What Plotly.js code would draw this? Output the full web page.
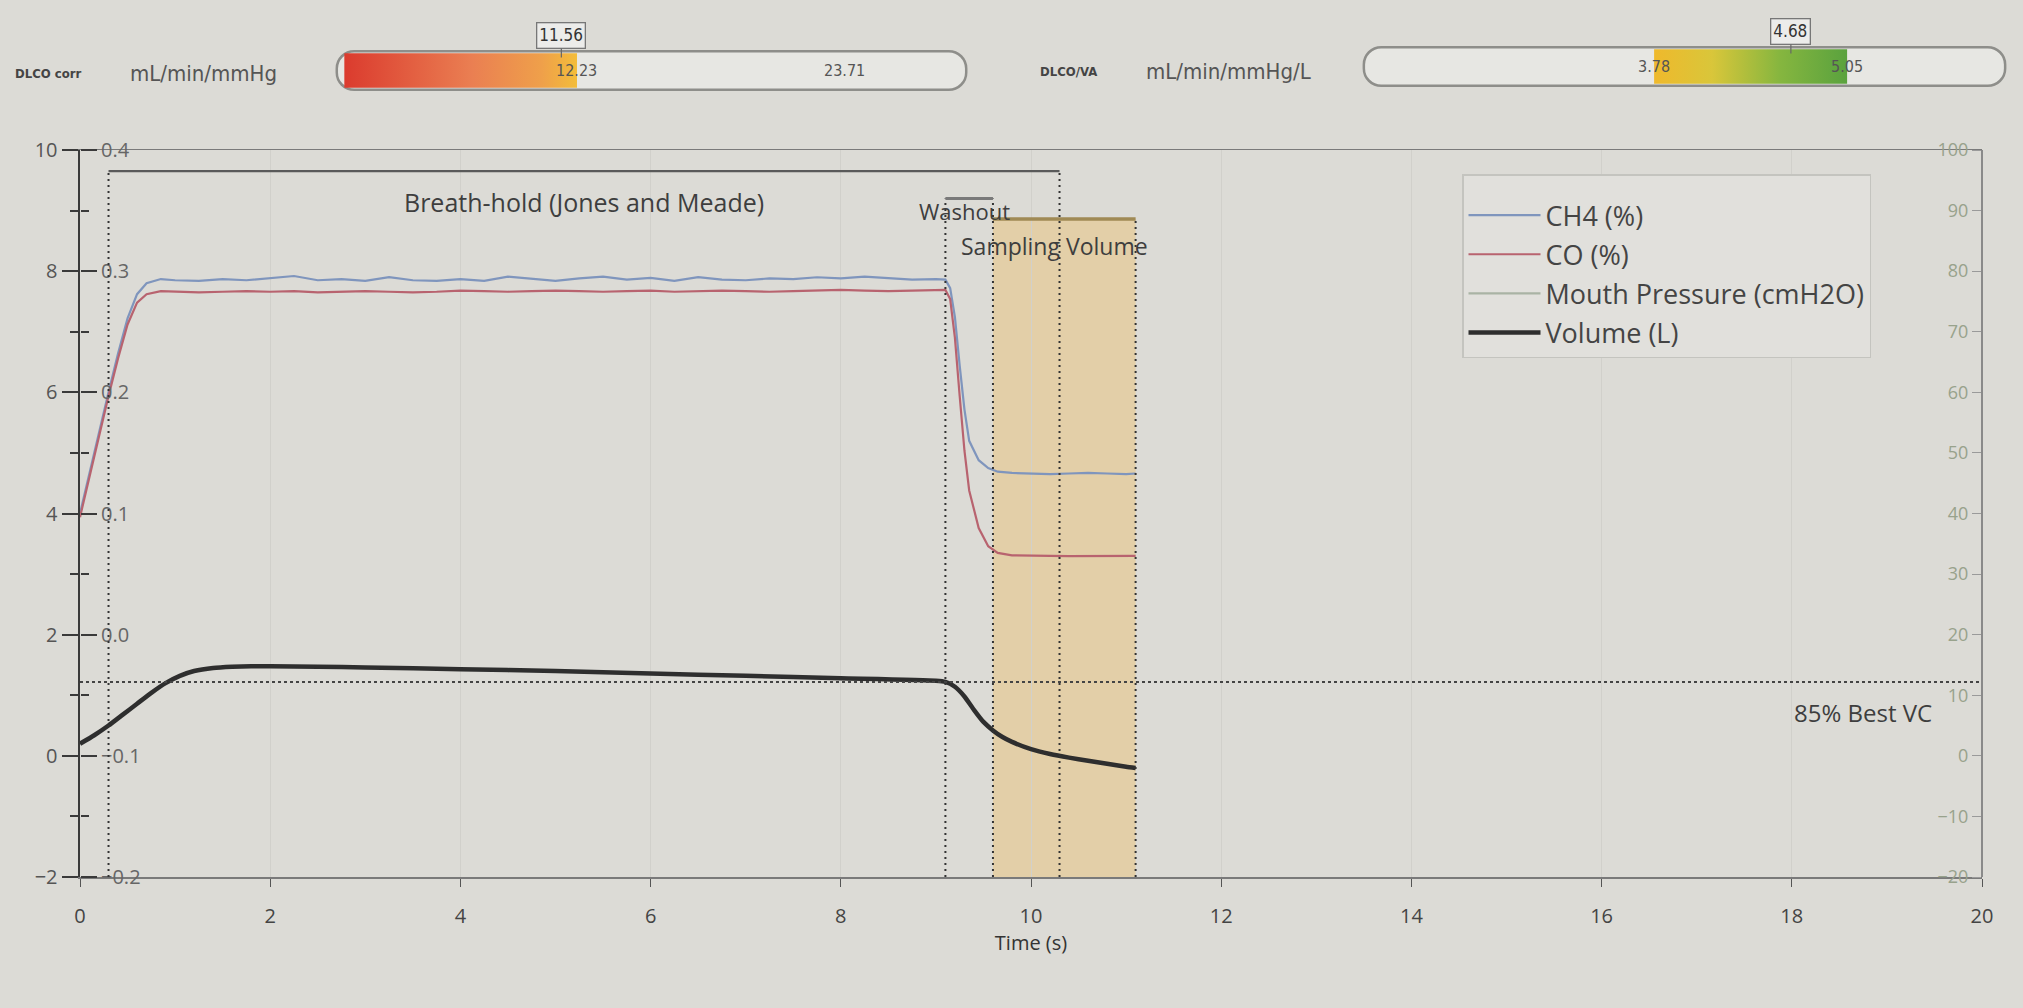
<!DOCTYPE html>
<html>
<head>
<meta charset="utf-8">
<script src="https://cdn.plot.ly/plotly-3.0.1.min.js"></script>
<style>html,body{margin:0;padding:0;background:#dcdbd6;}#chart{width:2023px;height:1008px;}</style>
</head>
<body>
<div id="chart"></div>
<script>
// ---------- data ----------
const gasTime = [0, 0.1, 0.2, 0.3, 0.4, 0.5, 0.6, 0.7, 0.85, 1.0,
  1.25, 1.5, 1.75, 2.0, 2.25, 2.5, 2.75, 3.0, 3.25, 3.5, 3.75, 4.0, 4.25, 4.5, 4.75, 5.0,
  5.25, 5.5, 5.75, 6.0, 6.25, 6.5, 6.75, 7.0, 7.25, 7.5, 7.75, 8.0, 8.25, 8.5, 8.75, 9.0,
  9.1, 9.15, 9.2, 9.25, 9.3, 9.35, 9.45, 9.55, 9.65, 9.8,
  10.0, 10.2, 10.4, 10.6, 10.8, 11.0, 11.1];
const ch4Pct = [0.100, 0.134, 0.167, 0.200, 0.232, 0.261, 0.281, 0.290, 0.2935, 0.2925,
  0.292, 0.2935, 0.2925, 0.294, 0.296, 0.2925, 0.2935, 0.292, 0.295, 0.2925, 0.292, 0.2935, 0.292, 0.2955, 0.2935, 0.292,
  0.294, 0.2955, 0.293, 0.2945, 0.292, 0.295, 0.293, 0.2925, 0.294, 0.2935, 0.295, 0.294, 0.2955, 0.294, 0.293, 0.2935,
  0.293, 0.286, 0.262, 0.222, 0.186, 0.160, 0.144, 0.1375, 0.1345, 0.1335,
  0.133, 0.1325, 0.133, 0.1335, 0.133, 0.1325, 0.133];
const coPct = [0.097, 0.131, 0.164, 0.197, 0.228, 0.256, 0.274, 0.281, 0.2835, 0.283,
  0.2825, 0.283, 0.2835, 0.283, 0.2835, 0.2825, 0.283, 0.2835, 0.283, 0.2825, 0.283, 0.284, 0.2835, 0.283, 0.2835, 0.284,
  0.2835, 0.283, 0.2835, 0.284, 0.283, 0.2835, 0.284, 0.2835, 0.283, 0.2835, 0.284, 0.2845, 0.284, 0.2835, 0.284, 0.2845,
  0.2845, 0.277, 0.245, 0.197, 0.152, 0.119, 0.088, 0.073, 0.0675, 0.0655,
  0.065, 0.065, 0.0648, 0.065, 0.0652, 0.065, 0.065];
const volTime = [0, 0.15, 0.3, 0.45, 0.6, 0.75, 0.9, 1.05, 1.2, 1.4,
  1.6, 1.8, 2.0, 2.5, 3, 4, 5, 6, 7, 8,
  9, 9.1, 9.2, 9.3, 9.4, 9.5, 9.6, 9.7, 9.8, 10.0,
  10.2, 10.4, 10.6, 10.8, 11.0, 11.1];
const volumeL = [0.2, 0.34, 0.5, 0.68, 0.86, 1.04, 1.2, 1.32, 1.4, 1.45,
  1.47, 1.48, 1.48, 1.47, 1.46, 1.43, 1.4, 1.36, 1.32, 1.28,
  1.24, 1.22, 1.14, 0.98, 0.76, 0.56, 0.42, 0.31, 0.23, 0.11,
  0.03, -0.03, -0.08, -0.13, -0.18, -0.2];
const mouthPressureTime = [null];
const mouthPressure = [null];

const seriesNames = ['CH4 (%)', 'CO (%)', 'Mouth Pressure (cmH2O)', 'Volume (L)'];

// manoeuvre phases (s) and bracket levels (left axis units)
const breathHold = [0.3, 10.3];
const washout = [9.1, 9.6];
const sampling = [9.6, 11.1];
const bracketLevels = [9.65, 9.2, 8.86]; // breath-hold, washout, sampling
const bestVC85 = 1.22;
const phaseLabels = ['Breath-hold (Jones and Meade)', 'Washout', 'Sampling Volume', '85% Best VC'];

// gauges
const gaugeNames = ['DLCO corr', 'DLCO/VA'];
const gaugeUnits = ['mL/min/mmHg', 'mL/min/mmHg/L'];
const dlcoSpan = [1.93, 28.92];
const dlcoRefs = [12.23, 23.71];
const dlcoMeasured = 11.56;
const vaSpan = [1.87, 6.09];
const vaRefs = [3.78, 5.05];
const vaMeasured = 4.68;

// ---------- layout helpers ----------
const W = 2023, H = 1008, MB = 131;
const PH = H - MB;
const px = v => v / W;
const py = v => (PH - v) / PH;

const BG = '#dcdbd6';
const FONT = 'Open Sans, sans-serif';
const NARROW = 'Liberation Sans Narrow, DejaVu Sans Condensed, sans-serif';

function gaugeTraces(xa, ya, span, segStart, segEnd, colorscale) {
  return [
    {type: 'bar', orientation: 'h', xaxis: xa, yaxis: ya, y: [0], x: [span[1] - span[0]], base: [span[0]],
     width: 0.9, marker: {color: '#e7e7e3', cornerradius: '45%', line: {width: 0}},
     showlegend: false, hoverinfo: 'skip'},
    {type: 'scatter', mode: 'lines', xaxis: xa, yaxis: ya,
     x: [segStart, segEnd, segEnd, segStart, segStart], y: [-0.4, -0.4, 0.4, 0.4, -0.4],
     fill: 'toself', fillcolor: colorscale[1][1], fillgradient: {type: 'horizontal', colorscale: colorscale},
     line: {width: 0}, showlegend: false, hoverinfo: 'skip'},
    {type: 'bar', orientation: 'h', xaxis: xa, yaxis: ya, y: [0], x: [span[1] - span[0]], base: [span[0]],
     width: 0.9, marker: {color: 'rgba(0,0,0,0)', cornerradius: '45%', line: {width: 2.5, color: '#8e8e8a'}},
     showlegend: false, hoverinfo: 'skip'}
  ];
}

const dlcoPad = (dlcoSpan[1] - dlcoSpan[0]) * 0.006;
const vaPad = (vaSpan[1] - vaSpan[0]) * 0.006;

const traces = [
  ...gaugeTraces('x2', 'y4', dlcoSpan, dlcoSpan[0] + (dlcoSpan[1] - dlcoSpan[0]) * 0.012, dlcoRefs[0],
    [[0, '#db3b2e'], [0.55, '#ea7f52'], [0.85, '#efa04a'], [1, '#f3bd3a']]),
  ...gaugeTraces('x3', 'y5', vaSpan, vaRefs[0], vaRefs[1],
    [[0, '#efb92c'], [0.3, '#d9c63a'], [0.65, '#86b63f'], [1, '#5aa23e']]),
  {type: 'scatter', mode: 'lines', name: seriesNames[0], x: gasTime, y: ch4Pct, yaxis: 'y2',
   line: {color: '#7f95bd', width: 2.2}, legendgroup: 'a'},
  {type: 'scatter', mode: 'lines', name: seriesNames[1], x: gasTime, y: coPct, yaxis: 'y2',
   line: {color: '#b8636f', width: 2.2}, legendgroup: 'b'},
  {type: 'scatter', mode: 'lines', name: seriesNames[2], x: mouthPressureTime, y: mouthPressure, yaxis: 'y3',
   line: {color: '#a9b3a4', width: 2.2}, legendgroup: 'c'},
  {type: 'scatter', mode: 'lines', name: seriesNames[3], x: volTime, y: volumeL, yaxis: 'y',
   line: {color: '#2e2e2e', width: 4.5, shape: 'spline', smoothing: 0.5}, legendgroup: 'd'}
];

const dotted = {color: '#333', width: 2, dash: '2px,4px'};
const shapes = [
  {type: 'rect', xref: 'x', yref: 'y', x0: sampling[0], x1: sampling[1], y0: -2, y1: bracketLevels[2],
   fillcolor: '#e3cfa8', line: {width: 0}, layer: 'below'},
  {type: 'line', xref: 'x', yref: 'y', x0: breathHold[0], x1: breathHold[0], y0: -2, y1: bracketLevels[0], line: dotted},
  {type: 'line', xref: 'x', yref: 'y', x0: breathHold[1], x1: breathHold[1], y0: -2, y1: bracketLevels[0], line: dotted},
  {type: 'line', xref: 'x', yref: 'y', x0: washout[0], x1: washout[0], y0: -2, y1: bracketLevels[1], line: dotted},
  {type: 'line', xref: 'x', yref: 'y', x0: sampling[0], x1: sampling[0], y0: -2, y1: bracketLevels[1], line: dotted},
  {type: 'line', xref: 'x', yref: 'y', x0: sampling[1], x1: sampling[1], y0: -2, y1: bracketLevels[2], line: dotted},
  {type: 'line', xref: 'x', yref: 'y', x0: 0, x1: 20, y0: bestVC85, y1: bestVC85, line: {color: '#444', width: 2, dash: '3px,3px'}},
  {type: 'line', xref: 'x', yref: 'y', x0: breathHold[0], x1: breathHold[1], y0: bracketLevels[0], y1: bracketLevels[0], line: {color: '#5a5a5a', width: 2.2}},
  {type: 'line', xref: 'x', yref: 'y', x0: washout[0], x1: washout[1], y0: bracketLevels[1], y1: bracketLevels[1], line: {color: '#7a7a7a', width: 3}},
  {type: 'line', xref: 'x', yref: 'y', x0: sampling[0], x1: sampling[1], y0: bracketLevels[2], y1: bracketLevels[2], line: {color: '#a08a55', width: 3.5}}
];

const txt = (t, x, y, size, extra) => Object.assign({text: t, x: x, y: y, xref: 'x', yref: 'y', showarrow: false,
  xanchor: 'center', yanchor: 'middle',
  font: {family: FONT, size: size, color: '#3e3e3e'}}, extra || {});
const ptxt = (t, x, y, family, size, color) => ({text: t, xref: 'paper', yref: 'paper', x: px(x), y: py(y),
  xanchor: 'center', yanchor: 'middle', showarrow: false, font: {family: family, size: size, color: color}});
const gval = (t, xa, ya, x) => ({text: t, xref: xa, yref: ya, x: x, y: 0, showarrow: false, xanchor: 'center',
  yanchor: 'middle', font: {family: NARROW, size: 16, color: '#555'}});
const gmark = (t, xa, ya, x) => ({text: t, xref: xa, yref: ya, x: x, y: 0.3, showarrow: true, arrowhead: 0,
  arrowwidth: 1.2, arrowcolor: '#666', ax: 0, ay: -22, bordercolor: '#777', borderwidth: 1.3, borderpad: 2,
  bgcolor: '#ececea', font: {family: NARROW, size: 17, color: '#333'}});

const annotations = [
  txt(phaseLabels[0], (breathHold[0] + breathHold[1]) / 2, 9.15, 25),
  txt(phaseLabels[1], 9.3, 8.99, 22),
  txt(phaseLabels[2], 10.25, 8.42, 23),
  txt(phaseLabels[3], 18.75, 0.72, 24),
  ptxt('<b>' + gaugeNames[0] + '</b>', 48, 73, NARROW, 13, '#444'),
  ptxt(gaugeUnits[0], 203, 73, NARROW, 22, '#555'),
  ptxt('<b>' + gaugeNames[1] + '</b>', 1068, 71, NARROW, 13, '#444'),
  ptxt(gaugeUnits[1], 1228, 71, NARROW, 22, '#555'),
  gval(dlcoRefs[0].toFixed(2), 'x2', 'y4', dlcoRefs[0]),
  gval(dlcoRefs[1].toFixed(2), 'x2', 'y4', dlcoRefs[1]),
  gval(vaRefs[0].toFixed(2), 'x3', 'y5', vaRefs[0]),
  gval(vaRefs[1].toFixed(2), 'x3', 'y5', vaRefs[1]),
  gmark(dlcoMeasured.toFixed(2), 'x2', 'y4', dlcoMeasured),
  gmark(vaMeasured.toFixed(2), 'x3', 'y5', vaMeasured)
];

const xDom = [px(80), px(1982)];
const yDom = [0, py(150)];

const layout = {
  width: W, height: H,
  margin: {l: 0, r: 0, t: 0, b: MB},
  paper_bgcolor: BG, plot_bgcolor: BG,
  font: {family: FONT, color: '#444'},
  barmode: 'overlay',
  showlegend: true,
  legend: {x: px(1462), y: py(174), xanchor: 'left', yanchor: 'top', bgcolor: '#e1e0dc',
    bordercolor: '#c4c4bf', borderwidth: 1.5, font: {family: FONT, size: 27, color: '#444'},
    title: {text: ' ', font: {size: 12}},
    traceorder: 'grouped', tracegroupgap: 1, itemwidth: 72},
  xaxis: {domain: xDom, range: [0, 20], dtick: 2, tick0: 0, anchor: 'y', showgrid: true, gridcolor: '#d1d0cb',
    zeroline: false, showline: true, linecolor: '#7a7a7a', linewidth: 1.5, mirror: true,
    ticks: 'outside', ticklen: 8, tickcolor: '#555', ticklabelstandoff: 12,
    tickfont: {size: 20, color: '#444'}, automargin: false,
    title: {text: 'Time (s)', font: {size: 20, color: '#333'}, standoff: 6}},
  yaxis: {domain: yDom, range: [-2, 10], dtick: 2, tick0: 0, anchor: 'x', showgrid: false, zeroline: false,
    showline: true, linecolor: '#3a3a3a', linewidth: 2.5, ticks: 'outside', ticklen: 16, tickwidth: 2,
    tickcolor: '#3a3a3a', minor: {dtick: 1, ticklen: 8, tickwidth: 2, tickcolor: '#3a3a3a', ticks: 'outside'},
    tickfont: {size: 20, color: '#555'}, automargin: false},
  yaxis2: {overlaying: 'y', side: 'right', anchor: 'free', position: xDom[0], range: [-0.2, 0.4], dtick: 0.1, tick0: 0,
    tickformat: '.1f', showgrid: false, zeroline: false, showline: false, ticks: 'outside', ticklen: 16, tickwidth: 2,
    tickcolor: '#3a3a3a', minor: {dtick: 0.05, ticklen: 8, tickwidth: 2, tickcolor: '#3a3a3a', ticks: 'outside'},
    tickfont: {size: 20, color: '#666'}, automargin: false},
  yaxis3: {overlaying: 'y', side: 'left', anchor: 'free', position: xDom[1], range: [-20, 100], dtick: 10, tick0: 0,
    showgrid: false, zeroline: false, showline: true, linecolor: '#8a8a8a', linewidth: 2, ticks: 'outside',
    ticklen: 9, tickcolor: '#9a9a9a', tickfont: {size: 18, color: '#98a28c'}, automargin: false},
  xaxis2: {domain: [px(333), px(970)], range: [dlcoSpan[0] - dlcoPad, dlcoSpan[1] + dlcoPad], anchor: 'y4',
    visible: false, fixedrange: true},
  yaxis4: {domain: [py(92), py(49)], range: [-0.5, 0.5], anchor: 'x2', visible: false, fixedrange: true},
  xaxis3: {domain: [px(1360), px(2009)], range: [vaSpan[0] - vaPad, vaSpan[1] + vaPad], anchor: 'y5',
    visible: false, fixedrange: true},
  yaxis5: {domain: [py(88), py(45)], range: [-0.5, 0.5], anchor: 'x3', visible: false, fixedrange: true},
  shapes: shapes,
  annotations: annotations
};

Plotly.newPlot('chart', traces, layout, {displayModeBar: false, staticPlot: true});
</script>
</body>
</html>
